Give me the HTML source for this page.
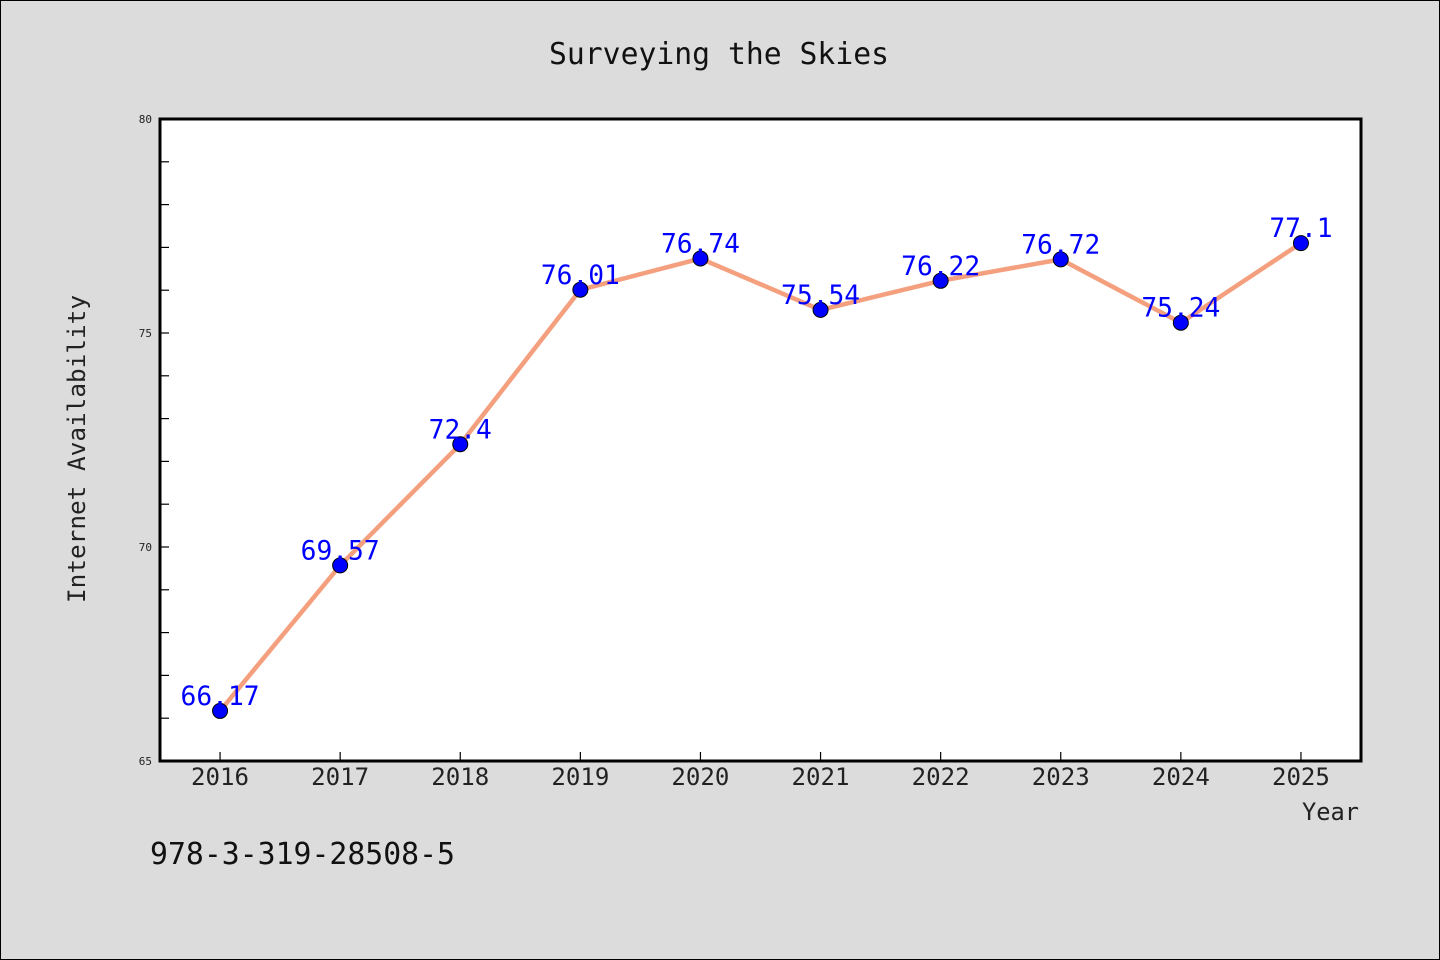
<!DOCTYPE html>
<html><head><meta charset="utf-8">
<style>
html,body{margin:0;padding:0;background:#dcdcdc;}
svg{display:block;}
text{font-family:"WenQuanYi Zen Hei Mono","WenQuanYi Zen Hei","DejaVu Sans Mono",monospace;}
</style></head>
<body>
<svg id="chart" width="1440" height="960" xmlns="http://www.w3.org/2000/svg">
<rect x="0.5" y="0.5" width="1439" height="959" fill="#dcdcdc" stroke="#000" stroke-width="1"/>
<text x="549" y="64" font-size="30" fill="#111" textLength="340" lengthAdjust="spacingAndGlyphs">Surveying the Skies</text>
<rect x="160" y="119" width="1201" height="642" fill="#fff"/>
<g id="axes"></g>
<g id="marks"></g>
<rect x="160" y="119" width="1201" height="642" fill="none" stroke="#000" stroke-width="3"/>
<text x="85" y="603" font-size="24" fill="#222" textLength="308" lengthAdjust="spacingAndGlyphs" transform="rotate(-90 85 603)">Internet Availability</text>
<text x="1302" y="820" font-size="24" fill="#222" textLength="57" lengthAdjust="spacingAndGlyphs">Year</text>
<text x="150" y="864" font-size="30" fill="#111" textLength="305" lengthAdjust="spacingAndGlyphs">978-3-319-28508-5</text>
</svg>
<script>
const categories = ["2016","2017","2018","2019","2020","2021","2022","2023","2024","2025"];
const values = [66.17,69.57,72.4,76.01,76.74,75.54,76.22,76.72,75.24,77.1];
const yTickLabels = [65,70,75,80];
const yMin = 65, yMax = 80;
const NS = "http://www.w3.org/2000/svg";
const L=160,R=1361,T=119,B=761;
const step=(R-L)/categories.length;
function xs(i){return L+step*(i+0.5);}
function ys(v){return B-(v-yMin)/(yMax-yMin)*(B-T);}
function mk(tag,attrs,parent){const e=document.createElementNS(NS,tag);for(const k in attrs)e.setAttribute(k,attrs[k]);parent.appendChild(e);return e;}
const axes=document.getElementById('axes'), marks=document.getElementById('marks');
for(let v=yMin+1; v<yMax; v++){
  const t=mk('line',{x1:L,x2:L+9,y1:ys(v),y2:ys(v),stroke:'#000','stroke-width':1.2},axes);
  
  
}
yTickLabels.forEach(v=>{
  const t=mk('text',{x:L-8,y:ys(v)+4,'text-anchor':'end','font-size':11,fill:'#222'},axes);
  t.textContent=v;
  
  
});
categories.forEach((c,i)=>{
  const tk=mk('line',{x1:xs(i),x2:xs(i),y1:B,y2:B-9,stroke:'#000','stroke-width':1.2},axes);
  
  
  const t=mk('text',{x:xs(i)-29,y:B+24,'font-size':24,fill:'#222',textLength:58,lengthAdjust:'spacingAndGlyphs'},axes);
  t.textContent=c;
  
  
});
const pts=values.map((v,i)=>xs(i)+','+ys(v)).join(' ');
const line=mk('polyline',{points:pts,fill:'none',stroke:'#f4a07e','stroke-width':4.5,'stroke-linejoin':'round'},marks);


values.forEach((v,i)=>{
  const c=mk('circle',{cx:xs(i),cy:ys(v),r:7.5,fill:'#0000ff',stroke:'#000','stroke-width':1},marks);
  
  
});
values.forEach((v,i)=>{
  const s=String(v);
  const w=s.length*15.8;
  const t=mk('text',{x:xs(i)-w/2,y:ys(v)-6,'font-size':27,fill:'#0000ff',textLength:w,lengthAdjust:'spacingAndGlyphs'},marks);
  t.textContent=s;
  
  
});
</script>
</body></html>
